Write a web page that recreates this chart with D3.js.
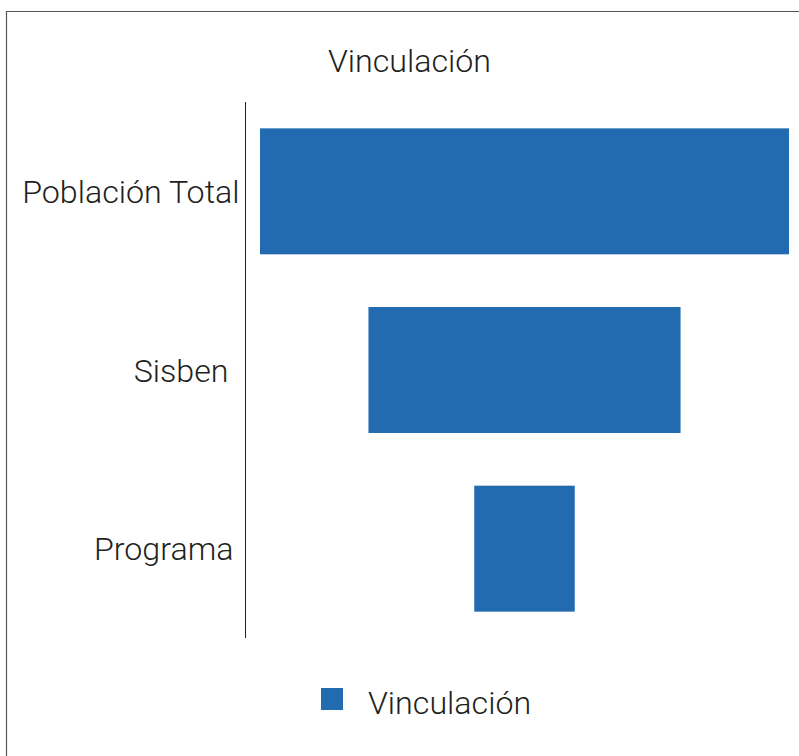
<!DOCTYPE html>
<html>
<head>
<meta charset="utf-8">
<script src="https://cdn.jsdelivr.net/npm/d3@7"></script>
<style>
  body { margin: 0; background: #fff; }
  text { font-family: Roboto, "Noto Sans", sans-serif; font-weight: 300; fill: #231f20; }
</style>
</head>
<body>
<div id="chart"></div>
<script>
const barColor = "#226bb0";
const seriesName = "Vinculación";
const categories = ["Población Total", "Sisben", "Programa"];
const values = [100, 59, 19];

const W = 799, H = 756;
const centerX = 524.5;
const maxWidth = 529;
const plotTop = 102, plotBottom = 638, axisX = 245.5;
const fontSize = 32.2;
// small nudges so the labels sit like the original layout
const labelShift = { "Población Total": 0, "Sisben": -11, "Programa": -6 };

const svg = d3.select("#chart").append("svg")
  .attr("width", W).attr("height", H);

// outer frame (left + top edges visible)
svg.append("path")
  .attr("d", `M6.5,${H} V11.5 H${W}`)
  .attr("fill", "none")
  .attr("stroke", "#555")
  .attr("stroke-width", 1.2);

const y = d3.scaleBand()
  .domain(categories)
  .range([plotTop, plotBottom])
  .paddingInner(0.295)
  .paddingOuter(0.1475);

const w = d3.scaleLinear()
  .domain([0, d3.max(values)])
  .range([0, maxWidth]);

// title
svg.append("text")
  .attr("x", 409.5).attr("y", 72)
  .attr("text-anchor", "middle")
  .attr("font-size", fontSize)
  .text(seriesName);

// funnel bars, centred
svg.append("g").selectAll("rect")
  .data(values)
  .join("rect")
  .attr("x", d => centerX - w(d) / 2)
  .attr("y", (d, i) => y(categories[i]))
  .attr("width", d => w(d))
  .attr("height", y.bandwidth())
  .attr("fill", barColor);

// category axis
const axis = svg.append("g")
  .attr("transform", `translate(${axisX},0)`)
  .call(d3.axisLeft(y).tickSize(0).tickPadding(6));
axis.select(".domain").attr("stroke", "#231f20").attr("d", `M0,${plotTop}V${plotBottom}`);
axis.selectAll(".tick text")
  .attr("font-size", fontSize)
  .attr("font-family", "Roboto, sans-serif")
  .attr("font-weight", 300)
  .attr("fill", "#231f20")
  .attr("dy", "0.36em")
  .attr("x", d => -6 + labelShift[d]);

// legend
const leg = svg.append("g").attr("transform", "translate(321,688)");
leg.append("rect").attr("width", 22).attr("height", 22).attr("fill", barColor);
leg.append("text")
  .attr("x", 47).attr("y", 26)
  .attr("font-size", fontSize)
  .text(seriesName);
</script>
</body>
</html>
